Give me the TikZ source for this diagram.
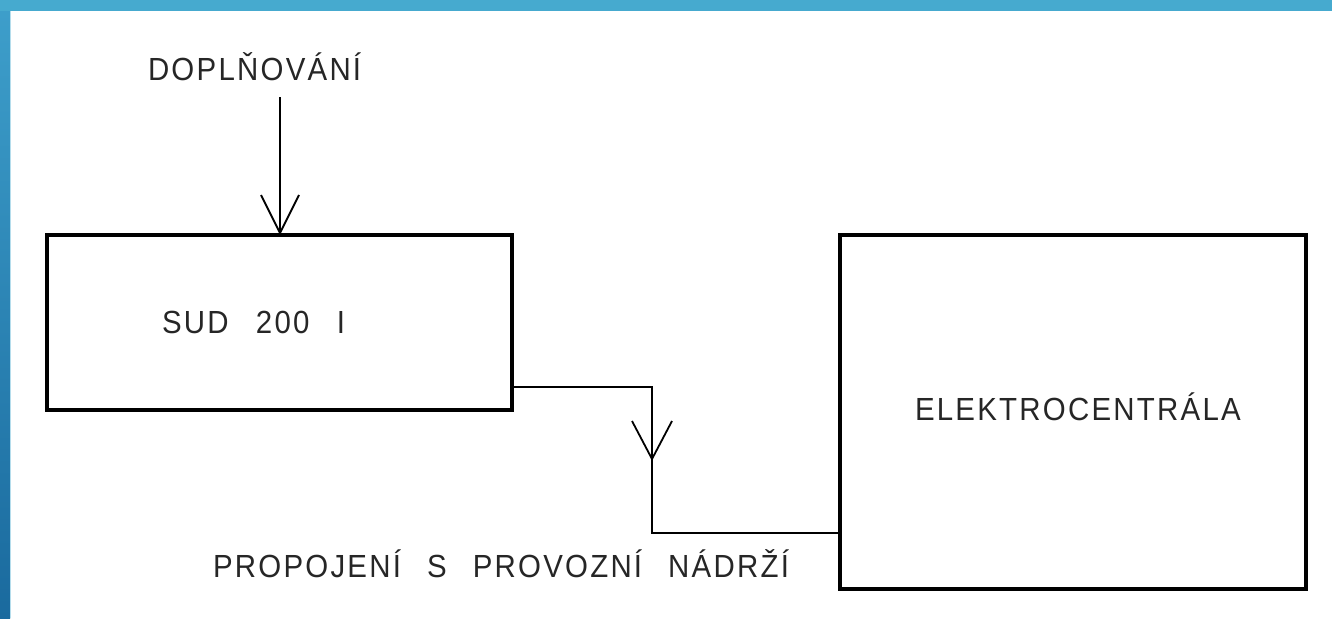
\documentclass[tikz,border=0pt]{standalone}
\usepackage{fontspec}
\setmainfont{Liberation Sans}
\newfontfamily\drawfont{Liberation Sans}[FakeStretch=0.92, LetterSpace=7]
\usetikzlibrary{calc}
\definecolor{topband}{HTML}{46AACF}
\definecolor{sidetop}{HTML}{3E9FCB}
\definecolor{sidebot}{HTML}{1A6A9E}
\definecolor{inkc}{HTML}{262626}
\begin{document}
\begin{tikzpicture}[x=1pt,y=-1pt,
  box/.style={draw=black, line width=4pt, rectangle, inner sep=0pt, outer sep=0pt},
  lbl/.style={inner sep=0pt, outer sep=0pt, anchor=base west, text=inkc, font=\drawfont\fontsize{32}{38}\selectfont},
  conn/.style={draw=black, line width=1.8pt, line join=miter},
  barb/.style={draw=black, line width=1.8pt, line join=miter}]
\useasboundingbox (0,0) rectangle (1332,618);
\fill[white] (0,0) rectangle (1332,618);
\shade[top color=sidetop, bottom color=sidebot] (0,0) rectangle (10,618);
\fill[topband] (0,0) rectangle (1332,11);
\fill[topband!40] (10,11) rectangle (11,618);

% boxes
\node[box, minimum width=465pt, minimum height=175pt] (sud) at (279.5,322.5) {};
\node[box, minimum width=466pt, minimum height=354pt] (elc) at (1073,412) {};

% labels
\node[lbl] (dop) at (148,80) {DOPLŇOVÁNÍ};
\node[lbl] (sudt) at (162,333) {\hbox to 183pt{SUD\hfil 200\hfil I}};
\node[lbl] (elct) at (915,420) {ELEKTROCENTRÁLA};
\node[lbl] (prop) at (213,577) {\hbox to 576pt{PROPOJENÍ\hfil S\hfil PROVOZNÍ\hfil NÁDRŽÍ}};

% connector 1: filling
\coordinate (fillstart) at (280,97);
\coordinate (filltip) at (280,233);
\draw[conn] (fillstart) -- (filltip);
\draw[barb] ($(filltip)+(-19,-38)$) -- (filltip) -- ($(filltip)+(19,-38)$);

% connector 2: link to service tank
\coordinate (c1) at (652,387);
\coordinate (c2) at (652,533);
\coordinate (ctip) at (652,459);
\draw[conn] (sud.east |- c1) -- (c1) -- (c2) -- (elc.west |- c2);
\draw[barb] ($(ctip)+(-20,-38)$) -- (ctip) -- ($(ctip)+(20,-38)$);
\end{tikzpicture}
\end{document}
